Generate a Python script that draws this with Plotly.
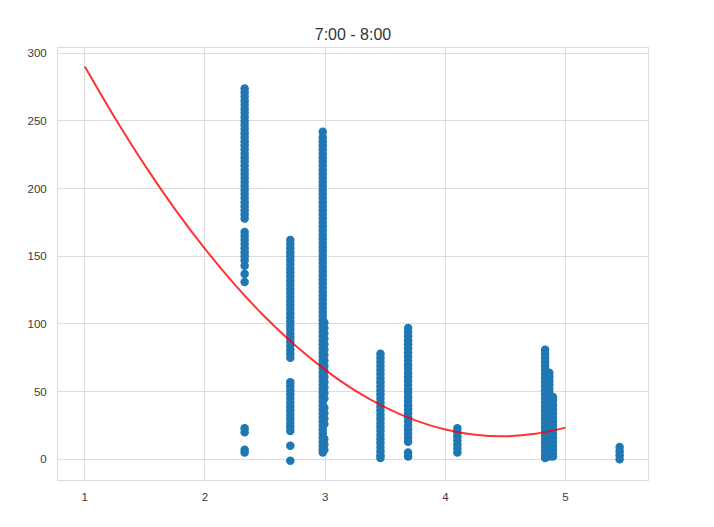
import plotly.graph_objects as go

title_text = "7:00 - 8:00"

# scatter columns: x position of each column and the y values
col_233_x = 2.33
col_233_y = [274, 271, 268, 265, 262, 259, 256, 253, 250, 247, 244, 241, 238, 235, 232, 229,
             226, 223, 220, 217, 214, 211, 208, 205, 202, 199, 196, 193, 190, 187, 184, 181,
             178, 168, 165, 162, 159, 156, 153, 150, 147, 143, 137, 131, 23, 20, 7, 5]

col_271_x = 2.71
col_271_y = [162, 159, 156, 153, 150, 147, 144, 141, 138, 135, 132, 129, 126, 123, 120, 117,
             114, 111, 108, 105, 102, 99, 96, 93, 90, 87, 84, 81, 78, 75,
             57, 54, 51, 48, 45, 42, 39, 36, 33, 30, 27, 24, 21, 10, -1]

col_298_x = 2.98
col_298_y = [242, 238, 235, 232, 229, 226, 223, 220, 217, 214, 211, 208, 205, 202, 199, 196,
             193, 190, 187, 184, 181, 178, 175, 172, 169, 166, 163, 160, 157, 154, 151, 148,
             145, 142, 139, 136, 133, 130, 127, 124, 121, 118, 115, 112, 109, 106, 103, 100,
             97, 94, 91, 88, 85, 82, 79, 76, 73, 70, 67, 64, 61, 58, 55, 52, 49, 46, 43, 40,
             37, 34, 31, 28, 25, 22, 19, 16, 13, 10, 7, 5]

col_299_x = 2.993
col_299_y = [101, 97, 93, 89, 85, 81, 77, 73, 69, 65, 61, 57, 53, 49, 45, 38, 34, 30, 26, 15, 11, 7]

col_346_x = 3.46
col_346_y = [78, 75, 72, 69, 66, 63, 60, 57, 54, 51, 48, 45, 42, 39, 36, 33, 30, 27, 24, 21,
             18, 15, 12, 9, 6, 3, 1]

col_369_x = 3.69
col_369_y = [97, 94, 91, 88, 85, 82, 79, 76, 73, 70, 67, 64, 61, 58, 55, 52, 49, 46, 43, 40,
             37, 34, 31, 28, 25, 22, 19, 16, 13, 5, 2]

col_410_x = 4.10
col_410_y = [23, 20, 17, 14, 11, 8, 5]

col_483_x = 4.83
col_483_y = [81, 78, 75, 72, 69, 66, 63, 60, 57, 54, 51, 48, 45, 42, 39, 36, 33, 30, 27, 24,
             21, 18, 15, 12, 9, 6, 3, 1]

col_487_x = 4.865
col_487_y = [64, 61, 58, 55, 52, 49, 46, 43, 40, 37, 34, 31, 28, 25, 22, 19, 16, 13, 10, 7, 4, 2]

col_490_x = 4.895
col_490_y = [46, 43, 40, 37, 34, 31, 28, 25, 22, 19, 16, 13, 10, 7, 4, 2]

col_545_x = 5.45
col_545_y = [9, 6, 3, 0]

# red fitted curve
fit_x = [1.0, 1.25, 1.5, 1.75, 2.0, 2.25, 2.5, 2.75, 3.0, 3.25, 3.5, 3.75, 4.0, 4.25, 4.5, 4.75, 5.0]
fit_y = [290.3, 252.4, 217.2, 184.9, 155.5, 128.9, 105.1, 84.2, 66.1, 50.8, 38.4, 28.8, 22.0,
         18.1, 17.0, 18.8, 23.4]

x_ticks = [1, 2, 3, 4, 5]
y_ticks = [0, 50, 100, 150, 200, 250, 300]

columns = [
    (col_233_x, col_233_y), (col_271_x, col_271_y), (col_298_x, col_298_y),
    (col_299_x, col_299_y), (col_346_x, col_346_y), (col_369_x, col_369_y),
    (col_410_x, col_410_y), (col_483_x, col_483_y), (col_487_x, col_487_y),
    (col_490_x, col_490_y), (col_545_x, col_545_y),
]
sx, sy = [], []
for cx, cys in columns:
    sx.extend([cx] * len(cys))
    sy.extend(cys)

fig = go.Figure()
fig.add_trace(go.Scatter(
    x=sx, y=sy, mode="markers",
    marker=dict(color="#1f77b4", size=8.5, line=dict(width=0)),
    showlegend=False, hoverinfo="skip",
))
fig.add_trace(go.Scatter(
    x=fit_x, y=fit_y, mode="lines", line=dict(color="rgba(255,0,0,0.8)", width=2, shape="spline"),
    showlegend=False, hoverinfo="skip",
))

grid = "#dcdcdc"
axis_common = dict(
    showgrid=True, gridcolor=grid, gridwidth=1, zeroline=False,
    showline=True, linecolor=grid, linewidth=1, mirror=True,
    ticks="", tickfont=dict(family="Liberation Sans, Arial, sans-serif", size=11.5, color="#3a3a3a"),
)
fig.update_xaxes(range=[0.777, 5.686], tickvals=x_ticks, ticklabelstandoff=6, **axis_common)
fig.update_yaxes(range=[-15.3, 303.9], tickvals=y_ticks, ticklabelstandoff=8, **axis_common)

# page body adds an 8px offset, so margins are compensated
fig.update_layout(
    width=714, height=527,
    margin=dict(l=50, r=74, t=40, b=55),
    paper_bgcolor="white", plot_bgcolor="white",
    title=dict(text=title_text, x=0.5, xanchor="center", y=1 - 26 / 527, yanchor="middle",
               xref="paper",
               font=dict(family="Liberation Sans, Arial, sans-serif", size=16, color="#333333")),
)
fig.write_html("out.html")
